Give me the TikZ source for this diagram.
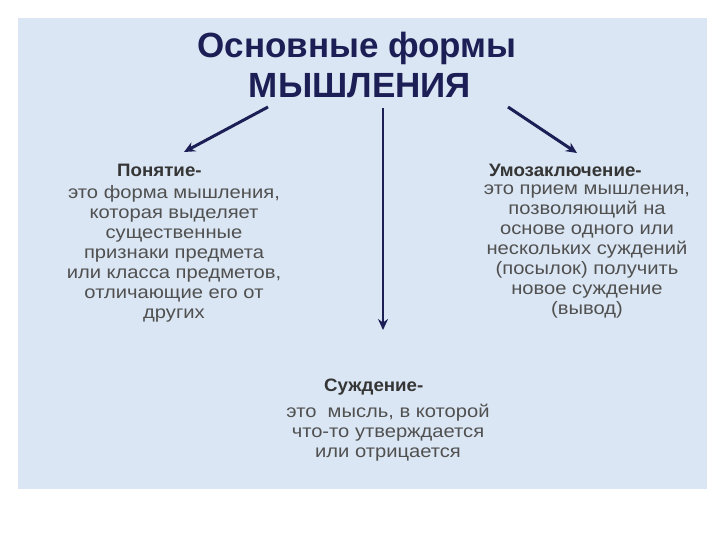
\documentclass[tikz,border=0pt]{standalone}
\usepackage{fontspec}
\setmainfont{Liberation Sans}
\newfontfamily\bodyfont[FakeStretch=1.12]{Liberation Sans}
\newfontfamily\headfont[FakeStretch=1.04]{Liberation Sans}
\usetikzlibrary{arrows.meta}
\definecolor{panel}{HTML}{DAE6F3}
\definecolor{navy}{HTML}{1C1F55}
\definecolor{bodygrey}{HTML}{505050}
\definecolor{headgrey}{HTML}{353535}
\tikzset{
  titletext/.style={font=\fontsize{35}{40}\selectfont\bfseries, text=navy, align=center, inner sep=0pt},
  headtext/.style={font=\headfont\fontsize{18}{20}\selectfont\bfseries, text=headgrey, anchor=base west, inner sep=0pt},
  bodytext/.style={font=\bodyfont\fontsize{18}{20}\selectfont, text=bodygrey, align=center, anchor=north, inner sep=0pt},
  arr/.style={draw=navy, line width=3pt, -{Stealth[length=11pt,width=10pt]}},
}
\begin{document}
\begin{tikzpicture}[x=1pt,y=-1pt]
\useasboundingbox (0,0) rectangle (720,540);
\fill[panel] (18,18) rectangle (707,489);
\node[titletext, anchor=base] (t1) at (357,58) {Основные формы};
\node[titletext, anchor=base] (t2) at (360,98) {МЫШЛЕНИЯ};
\coordinate (la) at (268,107);
\coordinate (lb) at (184,152);
\coordinate (ca) at (383,108);
\coordinate (cb) at (383,330);
\coordinate (ra) at (508,107);
\coordinate (rb) at (577,153);
\draw[arr] (la) -- (lb);
\draw[arr, line width=2.5pt] (ca) -- (cb);
\draw[arr] (ra) -- (rb);
\node[headtext] (h1) at (117,177) {Понятие-};
\node[bodytext] (b1) at (174,185) {это форма мышления,\\которая выделяет\\существенные\\признаки предмета\\или класса предметов,\\отличающие его от\\других};
\node[headtext] (h2) at (489,177) {Умозаключение-};
\node[bodytext] (b2) at (587,185) {это прием мышления,\\позволяющий на\\основе одного или\\нескольких суждений\\(посылок) получить\\новое суждение\\(вывод)};
\node[headtext] (h3) at (324,391) {Суждение-};
\node[bodytext] (b3) at (388,404) {это~ мысль, в которой\\что-то утверждается\\или отрицается};
\end{tikzpicture}
\end{document}
